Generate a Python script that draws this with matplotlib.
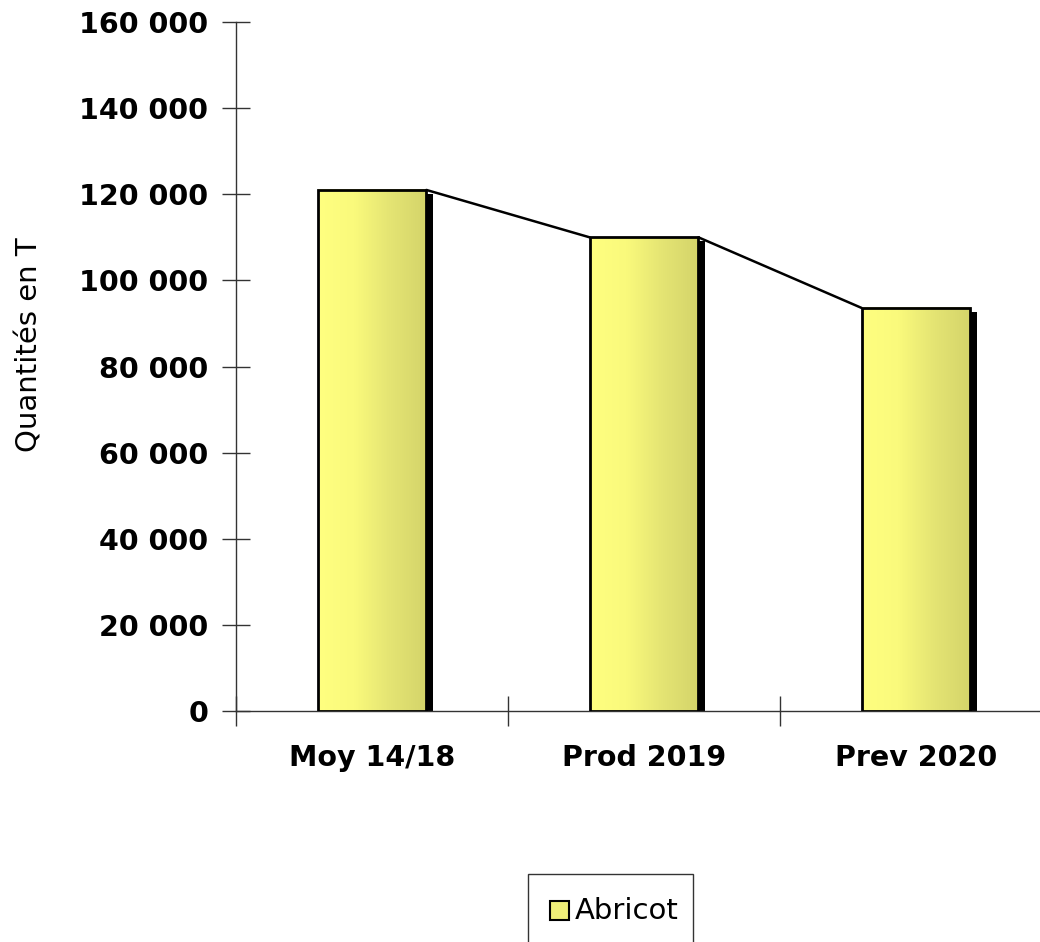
import numpy as np
import matplotlib
matplotlib.use("Agg")
import matplotlib.pyplot as plt
from matplotlib.patches import Rectangle
from matplotlib.colors import LinearSegmentedColormap
from matplotlib.ticker import FuncFormatter, MultipleLocator

categories = ["Moy 14/18", "Prod 2019", "Prev 2020"]
values = [121000, 110000, 93600]
series_name = "Abricot"
y_label = "Quantités en T"

plt.rcParams['font.family'] = ['DejaVu Sans']

fig = plt.figure(figsize=(10.4, 9.42), dpi=100)
ax = fig.add_axes([236/1040, 231/942, 816/1040, 689/942])

cmap = LinearSegmentedColormap.from_list("abr", ["#FFFF80", "#FAFA7C", "#E4E473", "#D4D46A"])
grad = np.linspace(0, 1, 256).reshape(1, -1)
width = 0.40
x = np.arange(len(categories))

ax.set_xlim(-0.5, len(categories) - 0.5)
ax.set_ylim(0, 160000)

# shadow offsets (in data units, derived from pixel scale)
sdx = 7 / 272
sdy = 4 / 689 * 160000

for xi, v in zip(x, values):
    x0, x1 = xi - width / 2, xi + width / 2
    ax.add_patch(Rectangle((x0 + sdx, 0), width, v - sdy, facecolor="black",
                           edgecolor="none", zorder=2))
    ax.imshow(grad, cmap=cmap, extent=(x0, x1, 0, v), aspect="auto",
              interpolation="bicubic", zorder=3)
    ax.add_patch(Rectangle((x0, 0), width, v, fill=False, edgecolor="black",
                           linewidth=2.0, zorder=4))

# series lines connecting top-right of one bar to top-left of next
for i in range(len(values) - 1):
    ax.plot([x[i] + width / 2, x[i + 1] - width / 2], [values[i], values[i + 1]],
            color="black", linewidth=1.8, zorder=5, solid_capstyle="round")

ax.set_xlim(-0.5, len(categories) - 0.5)
ax.set_ylim(0, 160000)
ax.set_aspect("auto")

for s in ["top", "right"]:
    ax.spines[s].set_visible(False)
for s in ["left", "bottom"]:
    ax.spines[s].set_color("#333333")
    ax.spines[s].set_linewidth(1.0)

ax.yaxis.set_major_locator(MultipleLocator(20000))
ax.yaxis.set_major_formatter(FuncFormatter(lambda v, p: f"{int(v):,}".replace(",", " ")))
ax.tick_params(axis="y", direction="inout", length=20, width=1.0, color="#333333",
               labelsize=20.5, pad=10)
for lab in ax.get_yticklabels():
    lab.set_fontweight("bold")

ax.set_xticks(x)
ax.set_xticklabels(categories, fontsize=20.5, fontweight="bold")
ax.set_xticks(np.arange(-0.5, len(categories)), minor=True)
ax.tick_params(axis="x", which="major", length=0, pad=24)
ax.tick_params(axis="x", which="minor", direction="inout", length=22, width=1.0,
               color="#333333")

fig.text(30/1040, (942-345)/942, y_label, rotation=90, va="center", ha="center",
         fontsize=21)

# legend
fig.add_artist(Rectangle((528/1040, -0.05), (693-528)/1040, (942-874)/942 + 0.05,
                         transform=fig.transFigure, fill=False, edgecolor="#333333",
                         linewidth=1.0))
fig.add_artist(Rectangle((550/1040, (942-920)/942), 19/1040, 19/942,
                         transform=fig.transFigure, facecolor="#EEEE78",
                         edgecolor="black", linewidth=1.5))
fig.text(575/1040, (942-911)/942, series_name, va="center", ha="left", fontsize=21)

fig.savefig("out.png", dpi=100)
